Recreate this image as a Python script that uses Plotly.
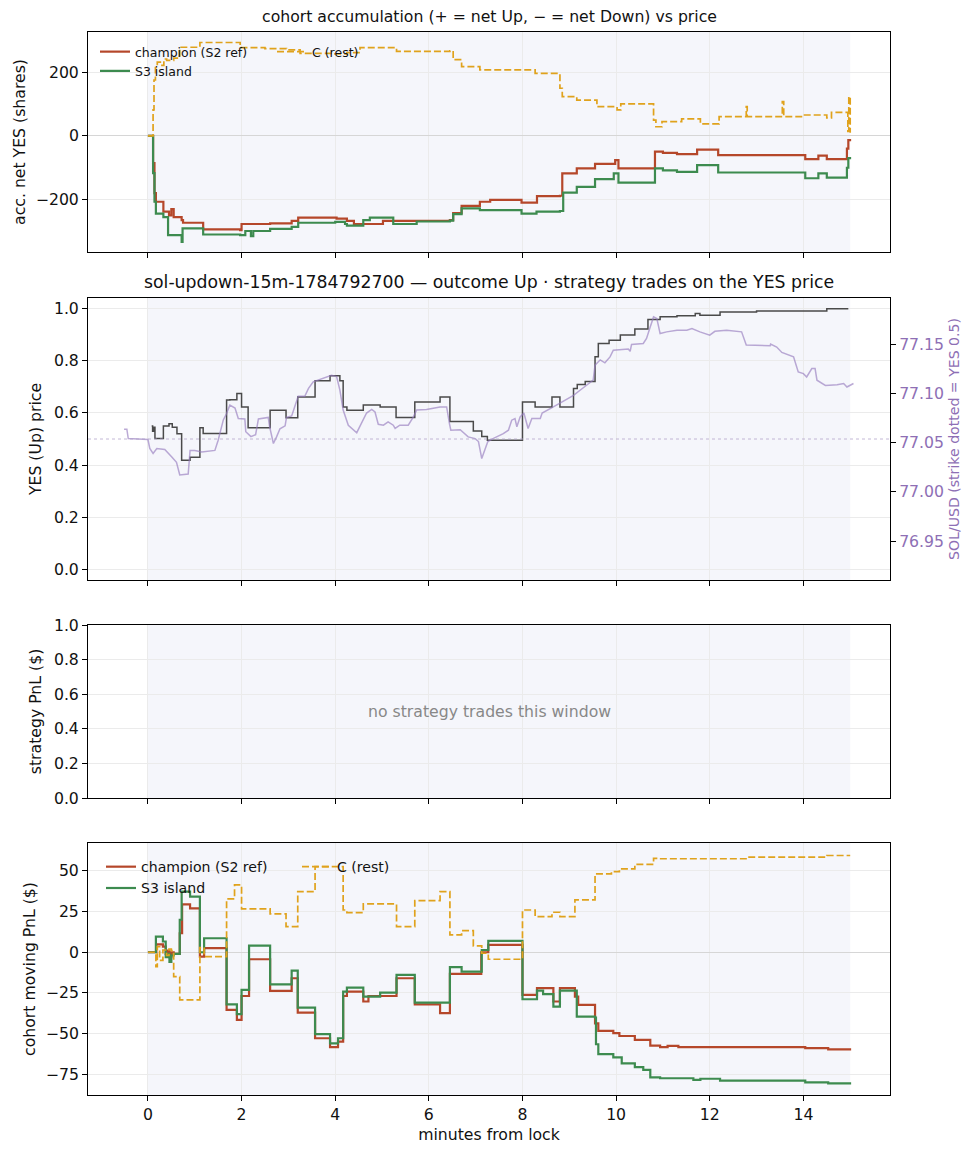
import plotly.graph_objects as go

# ---- panel 1: accumulated net YES shares per cohort ----
acc_t_champ = [0, 0.11, 0.14, 0.17, 0.33, 0.45, 0.5, 0.55, 0.72, 0.75, 1.18, 1.97, 2.0, 2.61, 3.07,
               3.21, 4.03, 4.25, 4.4, 5.02, 6.45, 6.52, 6.7, 7.09, 7.31, 7.98, 8.31, 8.8, 8.85, 9.16,
               9.55, 9.98, 10.05, 10.83, 11.0, 11.3, 11.73, 12.18, 14.04, 14.32, 14.5, 14.93, 14.96, 15.02]
acc_champ = [0, -85, -180, -207, -238, -250, -230, -255, -265, -273, -294, -296, -277, -275, -267,
             -257, -260, -267, -277, -267, -265, -243, -220, -207, -201, -210, -189, -188, -118, -102,
             -88, -76, -102, -49, -53, -57, -43, -60, -73, -62, -73, -40, -13, -13]

acc_t_s3 = [0, 0.11, 0.14, 0.17, 0.33, 0.43, 0.72, 0.74, 1.18, 1.97, 2.08, 2.2, 2.25, 2.61, 3.07,
            3.21, 4.0, 4.21, 4.25, 4.6, 4.74, 5.24, 5.74, 6.45, 6.52, 6.7, 7.09, 7.98, 8.3, 8.8,
            8.87, 9.16, 9.55, 9.95, 10.05, 10.83, 11.0, 11.3, 11.73, 12.18, 14.04, 14.32, 14.5, 14.93,
            14.96, 15.02]
acc_s3 = [0, -117, -207, -244, -255, -312, -333, -291, -310, -312, -299, -315, -299, -292, -286,
          -273, -270, -277, -282, -265, -257, -277, -269, -266, -246, -228, -233, -244, -238, -236,
          -178, -160, -136, -118, -147, -102, -108, -113, -92, -115, -133, -118, -131, -100,
          -70, -70]

acc_t_rest = [0, 0.11, 0.13, 0.16, 0.2, 0.3, 0.34, 0.4, 0.55, 0.68, 1.11, 1.97, 2.5, 2.96, 3.25,
              3.96, 4.25, 4.53, 5.31, 6.45, 6.52, 6.7, 7.09, 8.27, 8.5, 8.8, 8.85, 9.16, 9.59, 10.02,
              10.1, 10.8, 10.85, 10.98, 11.4, 11.8, 12.2, 12.75, 12.78, 12.8, 13.53, 13.55, 13.58, 14.0,
              14.5, 14.6, 14.93, 14.95, 14.97, 15.0]
acc_rest = [0, 82, 176, 215, 232, 222, 242, 238, 245, 279, 294, 278, 275, 271, 260,
            258, 262, 278, 266, 268, 240, 218, 208, 197, 197, 150, 124, 113, 92, 82,
            101, 50, 29, 45, 54, 38, 61, 61, 92, 61, 61, 108, 61, 66,
            57, 74, 74, 14, 124, 10]

# ---- panel 2: YES price and SOL/USD ----
yes_t = [0.08, 0.1, 0.12, 0.15, 0.33, 0.45, 0.52, 0.62, 0.72, 0.9, 1.11, 1.18, 1.68, 1.75, 1.9,
         2.0, 2.14, 2.61, 2.95, 3.2, 3.57, 3.89, 4.1, 4.17, 4.25, 4.6, 4.96, 5.3, 5.7, 6.24,
         6.45, 6.95, 7.13, 7.25, 8.0, 8.27, 8.63, 8.8, 9.09, 9.17, 9.34, 9.55, 9.62, 9.85, 10.09,
         10.4, 10.68, 10.94, 11.3, 11.69, 11.79, 12.22, 13.0, 14.5, 14.96]
yes_price = [0.55, 0.53, 0.545, 0.502, 0.55, 0.558, 0.545, 0.52, 0.419, 0.43, 0.543, 0.521, 0.649, 0.65, 0.674,
             0.623, 0.543, 0.61, 0.581, 0.661, 0.723, 0.742, 0.723, 0.623, 0.61, 0.63, 0.623, 0.582, 0.642, 0.661,
             0.567, 0.531, 0.51, 0.495, 0.642, 0.623, 0.661, 0.623, 0.693, 0.709, 0.72, 0.815, 0.866, 0.878, 0.898,
             0.921, 0.958, 0.968, 0.972, 0.981, 0.974, 0.986, 0.99, 0.999, 0.999]

sol_t = [-0.51, -0.45, -0.42, 0.0, 0.04, 0.11, 0.19, 0.36, 0.51, 0.61,
         0.68, 0.86, 0.9, 1.0, 1.15, 1.43, 1.5, 1.61, 1.68, 1.75,
         1.86, 1.93, 2.07, 2.09, 2.2, 2.3, 2.36, 2.57, 2.6, 2.68,
         2.75, 2.82, 2.93, 2.96, 3.07, 3.14, 3.21, 3.35, 3.43, 3.53,
         3.75, 3.92, 4.03, 4.1, 4.17, 4.28, 4.46, 4.57, 4.67, 4.78,
         4.85, 4.92, 5.03, 5.13, 5.24, 5.28, 5.38, 5.56, 5.67, 5.74,
         5.95, 6.24, 6.38, 6.44, 6.47, 6.67, 6.77, 6.84, 6.99, 7.06,
         7.13, 7.2, 7.26, 7.37, 7.59, 7.7, 7.77, 7.84, 7.88, 7.95,
         8.03, 8.12, 8.2, 8.38, 8.42, 8.66, 9.09, 9.23, 9.51, 9.55,
         9.66, 9.76, 9.87, 9.94, 10.26, 10.3, 10.33, 10.58, 10.65, 10.73,
         10.8, 10.87, 10.94, 11.08, 11.3, 11.51, 11.62, 11.79, 12.0, 12.11,
         12.36, 12.68, 12.78, 13.29, 13.3, 13.43, 13.54, 13.79, 13.89, 14.0,
         14.07, 14.18, 14.25, 14.29, 14.47, 14.72, 14.86, 14.93, 15.07]
sol_usd = [77.0636, 77.0636, 77.054, 77.053, 77.044, 77.039, 77.044, 77.043, 77.0354, 77.030,
           77.017, 77.018, 77.042, 77.042, 77.0405, 77.042, 77.0524, 77.073, 77.0795, 77.088,
           77.085, 77.0744, 77.074, 77.061, 77.056, 77.058, 77.074, 77.0755, 77.066, 77.049,
           77.056, 77.064, 77.067, 77.0755, 77.077, 77.088, 77.097, 77.097, 77.105, 77.1116,
           77.115, 77.1184, 77.117, 77.1032, 77.083, 77.0676, 77.060, 77.071, 77.080, 77.0836,
           77.081, 77.0686, 77.0676, 77.071, 77.0676, 77.0643, 77.0676, 77.0676, 77.076, 77.083,
           77.0836, 77.0862, 77.0862, 77.0693, 77.0625, 77.063, 77.059, 77.0557, 77.054, 77.051,
           77.0338, 77.042, 77.051, 77.054, 77.059, 77.0625, 77.0727, 77.0744, 77.066, 77.076,
           77.080, 77.0643, 77.0744, 77.0744, 77.080, 77.0862, 77.098, 77.1031, 77.1133, 77.1286,
           77.134, 77.131, 77.137, 77.1438, 77.145, 77.1427, 77.1496, 77.1506, 77.1557, 77.1675,
           77.1776, 77.176, 77.1607, 77.1624, 77.164, 77.164, 77.1657, 77.1624, 77.159, 77.163,
           77.164, 77.1624, 77.149, 77.1483, 77.150, 77.147, 77.1415, 77.137, 77.1218, 77.120,
           77.1166, 77.1251, 77.1251, 77.1133, 77.108, 77.1087, 77.110, 77.1064, 77.110]
strike = 77.0536
sol_half_range = 0.1432

# ---- panel 4: cohort moving PnL ----
pnl_t_champ = [0, 0.15, 0.18, 0.32, 0.38, 0.42, 0.46, 0.5, 0.55, 0.68, 0.73, 0.9, 1.11, 1.2, 1.68,
               1.9, 2.0, 2.16, 2.61, 3.07, 3.2, 3.57, 3.89, 4.06, 4.17, 4.25, 4.6, 4.71, 5.31, 5.7,
               6.24, 6.45, 7.12, 7.27, 8.0, 8.31, 8.66, 8.8, 9.12, 9.19, 9.55, 9.62, 9.94, 10.07, 10.4,
               10.73, 10.94, 11.1, 11.33, 14.04, 14.53, 15.02]
pnl_champ = [0, 0, 4.9, 3.5, -1, 1, -3, 0, -1, 11.7, 29.5, 27, -2.7, 2.5, -35.5,
             -41.6, -26.9, -4.3, -23.8, -16, -37.1, -52.9, -58.4, -55, -26.9, -24.2, -30.3, -26.9, -16, -32,
             -37.5, -13.3, 0, 4.5, -26.2, -22.1, -30.3, -22.1, -27.3, -32.4, -43.7, -48.4, -49.8, -51.5, -53.9,
             -57.4, -58.4, -57.6, -58.4, -59, -59.7, -59.7]

pnl_t_s3 = [0, 0.15, 0.17, 0.32, 0.38, 0.42, 0.46, 0.5, 0.55, 0.68, 0.72, 0.9, 1.11, 1.2, 1.68,
            1.9, 2.0, 2.16, 2.61, 3.07, 3.2, 3.57, 3.89, 4.06, 4.17, 4.25, 4.6, 4.96, 5.31, 5.7,
            6.45, 6.7, 7.13, 7.27, 8.0, 8.31, 8.44, 8.66, 8.8, 9.16, 9.55, 9.57, 9.62, 9.94, 10.12,
            10.4, 10.58, 10.73, 10.94, 11.33, 11.65, 11.8, 12.22, 14.04, 14.53, 15.02]
pnl_s3 = [0, 0, 9.6, 6.6, -3, -1, -6, -2, -1, 20, 37.3, 34.2, 0, 8.6, -32,
          -38.1, -23.2, 4.1, -19.7, -11.3, -34, -50.4, -56, -52.9, -24.2, -21.7, -27.3, -24.8, -13.9, -31,
          -9.2, -11.9, 1.4, 7, -28.9, -23.6, -25.8, -33.4, -23.6, -39.6, -40.2, -56.6, -62.7, -64.6, -68.3,
          -70.7, -72.4, -76.9, -77.5, -77.5, -78.5, -77.8, -78.9, -80, -80.6, -80.6]

pnl_t_rest = [0, 0.15, 0.17, 0.2, 0.25, 0.32, 0.4, 0.45, 0.5, 0.55, 0.68, 1.11, 1.2, 1.68, 1.85,
              2.0, 2.61, 2.95, 3.2, 3.57, 4.17, 4.25, 4.6, 5.31, 5.7, 6.24, 6.45, 6.7, 6.95, 7.13,
              7.27, 8.0, 8.27, 8.63, 8.8, 9.12, 9.55, 9.9, 10.07, 10.4, 10.8, 10.9, 12.8, 14.5, 15.0]
pnl_rest = [0, 0, -8.8, 3.5, -5, 1.4, -2, 2, 1, -15, -29.3, 2.9, -2.7, 32.8, 41.4,
            26.7, 23.6, 15.8, 37.3, 52.7, 26, 24.4, 29.7, 15.8, 31.8, 37.3, 10.7, 13.3, 3.9, -0.6,
            -4.3, 26, 21.9, 24.6, 21.9, 32.2, 48.2, 49.6, 51.3, 54.1, 57.8, 57.5, 58.5, 59.5, 59.5]

window = [0, 15]
x_ticks = [0, 2, 4, 6, 8, 10, 12, 14]

RED = "#b5472a"
GREEN = "#3d8b4f"
GOLD = "#e0a21c"
PURPLE = "#8e6fb5"
FONT = "DejaVu Sans"

fig = go.Figure()

# panel 1
fig.add_trace(go.Scatter(x=acc_t_champ, y=acc_champ, mode="lines", line_shape="hv",
                         line=dict(color=RED, width=2.2), name="champion (S2 ref)",
                         xaxis="x", yaxis="y", legend="legend"))
fig.add_trace(go.Scatter(x=acc_t_s3, y=acc_s3, mode="lines", line_shape="hv",
                         line=dict(color=GREEN, width=2.2), name="S3 island",
                         xaxis="x", yaxis="y", legend="legend"))
fig.add_trace(go.Scatter(x=acc_t_rest, y=acc_rest, mode="lines", line_shape="hv",
                         line=dict(color=GOLD, width=1.7, dash="7px,3px"), name="C (rest)",
                         xaxis="x", yaxis="y", legend="legend2"))

# panel 2
fig.add_trace(go.Scatter(x=yes_t, y=yes_price, mode="lines", line_shape="hv",
                         line=dict(color="#4a4a4a", width=1.5), showlegend=False,
                         xaxis="x2", yaxis="y2"))
fig.add_trace(go.Scatter(x=sol_t, y=sol_usd, mode="lines",
                         line=dict(color="rgba(150,125,190,0.65)", width=1.5), showlegend=False,
                         xaxis="x2", yaxis="y5"))

# panel 3: nothing plotted, placeholder keeps the axes alive
fig.add_trace(go.Scatter(x=[None], y=[None], mode="lines", showlegend=False, xaxis="x3", yaxis="y3"))

# panel 4
fig.add_trace(go.Scatter(x=pnl_t_champ, y=pnl_champ, mode="lines", line_shape="hv",
                         line=dict(color=RED, width=2.2), name="champion (S2 ref)",
                         xaxis="x4", yaxis="y4", legend="legend3"))
fig.add_trace(go.Scatter(x=pnl_t_s3, y=pnl_s3, mode="lines", line_shape="hv",
                         line=dict(color=GREEN, width=2.2), name="S3 island",
                         xaxis="x4", yaxis="y4", legend="legend3"))
fig.add_trace(go.Scatter(x=pnl_t_rest, y=pnl_rest, mode="lines", line_shape="hv",
                         line=dict(color=GOLD, width=1.7, dash="7px,3px"), name="C (rest)",
                         xaxis="x4", yaxis="y4", legend="legend4"))

# geometry: the page puts the figure 8px in from the top-left corner,
# so everything below is in screen pixels and shifted back by OFF
OFF = 8
FIG_W, FIG_H = 978 - OFF, 1156 - OFF
PLOT_L, PLOT_R, PLOT_T, PLOT_B = 88, 890, 32, 1095
L = PLOT_L - OFF
T = PLOT_T - OFF
R = FIG_W - (PLOT_R - OFF)
B = FIG_H - (PLOT_B - OFF)
H = PLOT_B - PLOT_T
W = PLOT_R - PLOT_L


def py(px):
    return (PLOT_B - px) / H


def dom(top_px, bot_px):
    return [py(bot_px), py(top_px)]


TICK = 15.7
axis_common = dict(showline=True, linecolor="black", linewidth=1, mirror=True,
                   ticks="outside", ticklen=5, tickcolor="black",
                   gridcolor="#ebebeb", gridwidth=1,
                   tickfont=dict(size=TICK, color="#111", family=FONT))

x_range = [-1.28, 15.85]
for i in range(1, 5):
    name = "xaxis" if i == 1 else "xaxis%d" % i
    ax = dict(axis_common, domain=[0, 1], anchor="y" if i == 1 else "y%d" % i,
              range=x_range, tickvals=x_ticks, showticklabels=(i == 4), zeroline=False)
    if i != 4:
        ax["matches"] = "x4"
    fig.layout[name] = ax

fig.update_layout(xaxis4_title=dict(text="minutes from lock", font=dict(size=TICK, family=FONT),
                                    standoff=6))

title_font = dict(size=TICK, family=FONT, color="#111")
fig.update_layout(
    yaxis=dict(axis_common, domain=dom(32, 252), anchor="x", range=[-365, 327],
               tickvals=[-200, 0, 200], zeroline=True, zerolinecolor="#d6d6d6", zerolinewidth=1.2,
               title=dict(text="acc. net YES (shares)", font=title_font, standoff=6)),
    yaxis2=dict(axis_common, domain=dom(298, 580), anchor="x2", range=[-0.04, 1.04],
                tickvals=[0, 0.2, 0.4, 0.6, 0.8, 1.0], tickformat=".1f", zeroline=False,
                title=dict(text="YES (Up) price", font=title_font, standoff=8)),
    yaxis3=dict(axis_common, domain=dom(625, 798), anchor="x3", range=[0, 1],
                tickvals=[0, 0.2, 0.4, 0.6, 0.8, 1.0], tickformat=".1f", zeroline=False,
                title=dict(text="strategy PnL ($)", font=title_font, standoff=8)),
    yaxis4=dict(axis_common, domain=dom(843, 1095), anchor="x4", range=[-87.8, 67.2],
                tickvals=[-75, -50, -25, 0, 25, 50], zeroline=True, zerolinecolor="#d6d6d6",
                zerolinewidth=1.2,
                title=dict(text="cohort moving PnL ($)", font=title_font, standoff=6)),
    yaxis5=dict(overlaying="y2", side="right", anchor="x2",
                range=[strike - sol_half_range, strike + sol_half_range],
                tickvals=[76.95, 77.0, 77.05, 77.1, 77.15], tickformat=".2f",
                showgrid=False, zeroline=False, showline=True, linecolor="black",
                ticks="outside", ticklen=5, tickcolor="black",
                tickfont=dict(size=TICK, color=PURPLE, family=FONT),
                title=dict(text="SOL/USD (strike dotted = YES 0.5)",
                           font=dict(size=14.1, color=PURPLE, family=FONT), standoff=6)),
)

# shaded trading window in every panel + strike line
shapes = []
for xr, yr in [("x", "y"), ("x2", "y2"), ("x3", "y3"), ("x4", "y4")]:
    shapes.append(dict(type="rect", xref=xr, yref=yr + " domain", x0=window[0], x1=window[1],
                       y0=0, y1=1, fillcolor="#f5f6fb", line=dict(width=0), layer="below"))
shapes.append(dict(type="line", xref="x2 domain", yref="y2", x0=0, x1=1, y0=0.5, y1=0.5,
                   line=dict(color="rgba(175,160,200,0.75)", width=1, dash="dot")))
fig.update_layout(shapes=shapes)

annotations = [
    dict(text="cohort accumulation (+ = net Up, \u2212 = net Down) vs price", xref="paper", yref="paper",
         x=0.5, y=py(17), xanchor="center", yanchor="middle", showarrow=False,
         font=dict(size=15.7, family=FONT, color="#111")),
    dict(text="sol-updown-15m-1784792700 \u2014 outcome Up \u00b7 strategy trades on the YES price",
         xref="paper", yref="paper", x=0.5, y=py(282), xanchor="center", yanchor="middle",
         showarrow=False, font=dict(size=17.3, family=FONT, color="#111")),
    dict(text="no strategy trades this window", xref="x3 domain", yref="y3", x=0.5, y=0.5,
         showarrow=False, font=dict(size=15.7, family=FONT, color="#888888")),
]
fig.update_layout(annotations=annotations)


def legend_at(px_x, px_y, size):
    return dict(x=(px_x - PLOT_L) / W, y=py(px_y), xanchor="left", yanchor="top",
                bgcolor="rgba(0,0,0,0)", borderwidth=0, itemwidth=30,
                font=dict(size=size, family=FONT, color="#111"), tracegroupgap=0)


fig.update_layout(
    legend=legend_at(95, 37, 12.5),
    legend2=legend_at(272, 37, 12.5),
    legend3=legend_at(101, 851, 14.1),
    legend4=legend_at(297, 851, 14.1),
)

fig.update_layout(width=FIG_W, height=FIG_H, margin=dict(l=L, r=R, t=T, b=B),
                  plot_bgcolor="white", paper_bgcolor="white",
                  font=dict(family=FONT, color="#111"))

fig.write_html("out.html")
